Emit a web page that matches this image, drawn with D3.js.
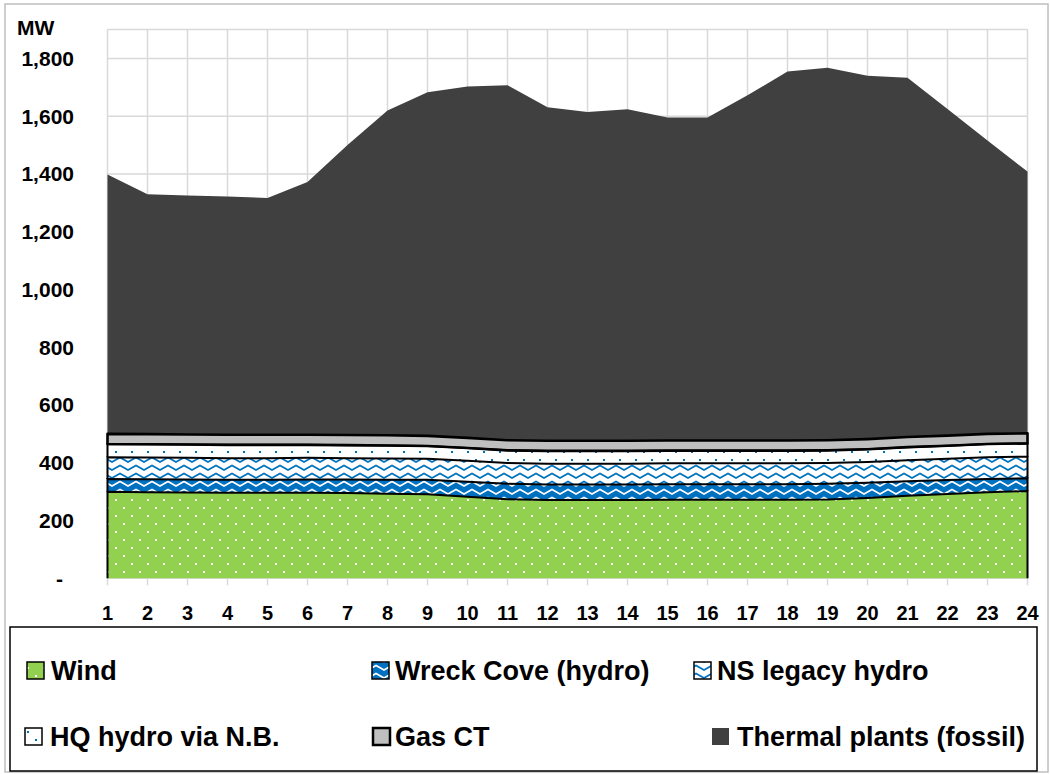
<!DOCTYPE html>
<html>
<head>
<meta charset="utf-8">
<script src="https://cdn.jsdelivr.net/npm/d3@7"></script>
<style>
  html, body { margin: 0; padding: 0; background: #fff; }
  svg { display: block; }
  text { font-family: "Liberation Sans", Arial, sans-serif; font-weight: bold; fill: #000; }
</style>
</head>
<body>
<svg id="chart" width="1050" height="774"></svg>
<script>
// Hourly supply stack (MW), hours 1-24
const hours = [1,2,3,4,5,6,7,8,9,10,11,12,13,14,15,16,17,18,19,20,21,22,23,24];
const wind      = [300,298,297,296,296,296,295,293,291,282,274,271,271,271,272,272,272,272,273,278,286,292,298,302];
const wreckCove = [44,45,45,45,45,46,47,48,50,52,53,54,54,54,54,54,54,54,54,53,50,48,46,44];
const nsLegacy  = [75,75,75,75,75,75,74,74,73,73,72,72,72,72,72,72,72,72,72,72,73,74,75,75];
const hqHydro   = [46,46,46,46,46,45,45,45,44,44,44,44,44,44,44,44,44,44,44,44,45,45,46,46];
const gasCT     = [35,35,35,35,35,35,35,35,35,35,35,35,35,35,35,35,35,35,35,35,35,35,35,35];
const thermal   = [898,831,827,825,820,875,1004,1125,1190,1217,1229,1155,1138,1148,1118,1118,1195,1278,1290,1258,1244,1131,1016,906];

const seriesNames = ["Wind", "Wreck Cove (hydro)", "NS legacy hydro", "HQ hydro via N.B.", "Gas CT", "Thermal plants (fossil)"];
const yTicks = [0,200,400,600,800,1000,1200,1400,1600,1800];

const seriesValues = [wind, wreckCove, nsLegacy, hqHydro, gasCT, thermal];
const rows = hours.map((h, i) => {
  const r = { hour: h };
  seriesNames.forEach((n, k) => r[n] = seriesValues[k][i]);
  return r;
});

const svg = d3.select("#chart");
const defs = svg.append("defs");

const BLUE = "#0070c0", GREEN = "#92d050", DARK = "#404040", GAS = "#bfbfbf", GRID = "#d9d9d9";

// Fill patterns
function dotPattern(id, bg, fg) {
  const p = defs.append("pattern").attr("id", id).attr("patternUnits", "userSpaceOnUse")
    .attr("width", 16).attr("height", 16);
  p.append("rect").attr("width", 16).attr("height", 16).attr("fill", bg);
  p.append("rect").attr("x", 3).attr("y", 3).attr("width", 2).attr("height", 2).attr("fill", fg);
  p.append("rect").attr("x", 11).attr("y", 11).attr("width", 2).attr("height", 2).attr("fill", fg);
}
function zigzagPattern(id, bg, fg) {
  const p = defs.append("pattern").attr("id", id).attr("patternUnits", "userSpaceOnUse")
    .attr("width", 16).attr("height", 8);
  p.append("rect").attr("width", 16).attr("height", 8).attr("fill", bg);
  p.append("path").attr("d", "M-8,1.5 L0,6 L8,1.5 L16,6 L24,1.5")
    .attr("fill", "none").attr("stroke", fg).attr("stroke-width", 1.6);
}
dotPattern("pWind", GREEN, "#ffffff");
zigzagPattern("pWreck", BLUE, "#ffffff");
zigzagPattern("pNS", "#ffffff", BLUE);
dotPattern("pHQ", "#ffffff", BLUE);

const fills = {
  "Wind": "url(#pWind)",
  "Wreck Cove (hydro)": "url(#pWreck)",
  "NS legacy hydro": "url(#pNS)",
  "HQ hydro via N.B.": "url(#pHQ)",
  "Gas CT": GAS,
  "Thermal plants (fossil)": DARK
};

// Scales
const x = d3.scaleLinear().domain([1, 24]).range([107.5, 1027.5]);
const y = d3.scaleLinear().domain([0, 1900]).range([578.3, 29.5]);

// Outer chart frame
svg.append("rect").attr("x", 5).attr("y", 4).attr("width", 1043).attr("height", 768)
  .attr("fill", "none").attr("stroke", "#bfbfbf").attr("stroke-width", 1.5);

// Gridlines
const grid = svg.append("g");
grid.selectAll("line.h").data(yTicks.filter(d => d > 0).concat([1900])).join("line")
  .attr("x1", x(1)).attr("x2", x(24)).attr("y1", d => y(d)).attr("y2", d => y(d))
  .attr("stroke", GRID).attr("stroke-width", 1.5);
grid.selectAll("line.v").data(hours).join("line")
  .attr("x1", d => x(d)).attr("x2", d => x(d)).attr("y1", y(1900)).attr("y2", y(0) + 7)
  .attr("stroke", GRID).attr("stroke-width", 1.5);
grid.append("line").attr("x1", x(1)).attr("x2", x(24)).attr("y1", y(0)).attr("y2", y(0))
  .attr("stroke", GRID).attr("stroke-width", 1.5);

// Stacked areas
const stack = d3.stack().keys(seriesNames);
const layers = stack(rows);

const area = d3.area().x(d => x(d.data.hour)).y0(d => y(d[0])).y1(d => y(d[1]));

const plot = svg.append("g");
plot.selectAll("path.area").data(layers).join("path")
  .attr("d", area)
  .attr("fill", d => fills[d.key]);

// Outlines: top edge plus both ends of each band (no baseline stroke)
function outline(layer) {
  const first = layer[0], last = layer[layer.length - 1];
  const top = d3.line().x(d => x(d.data.hour)).y(d => y(d[1]))(layer);
  return `M${x(first.data.hour)},${y(first[0])} L${x(first.data.hour)},${y(first[1])} ` +
    top.replace(/^M/, "L") + ` L${x(last.data.hour)},${y(last[0])}`;
}
plot.selectAll("path.edge").data(layers.filter(l => l.key !== "Thermal plants (fossil)" && l.key !== "Gas CT")).join("path")
  .attr("d", outline).attr("fill", "none").attr("stroke", "#000").attr("stroke-width", 2);
plot.selectAll("path.gas").data(layers.filter(l => l.key === "Gas CT")).join("path")
  .attr("d", area).attr("fill", "none").attr("stroke", "#000").attr("stroke-width", 2.6)
  .attr("stroke-linejoin", "round");

// Axes labels
const yAxis = svg.append("g");
yAxis.selectAll("text").data(yTicks).join("text")
  .attr("x", d => d === 0 ? 63 : 74)
  .attr("y", d => y(d))
  .attr("dy", "0.35em")
  .attr("text-anchor", "end")
  .style("font-size", "21px")
  .text(d => d === 0 ? "-" : d3.format(",")(d));

svg.append("text").attr("x", 17).attr("y", 35).style("font-size", "21px").text("MW");

const xAxis = svg.append("g");
xAxis.selectAll("text").data(hours).join("text")
  .attr("x", d => x(d)).attr("y", 620)
  .attr("text-anchor", "middle")
  .style("font-size", "20px")
  .text(d => d);

// Legend
const legend = svg.append("g");
legend.append("rect").attr("x", 10).attr("y", 627).attr("width", 1027).attr("height", 144)
  .attr("fill", "#fff").attr("stroke", "#000").attr("stroke-width", 1.5);

const legendPos = [
  { sx: 27, tx: 51, base: 680 },
  { sx: 372, tx: 395, base: 680 },
  { sx: 694, tx: 717, base: 680 },
  { sx: 25, tx: 50, base: 746 },
  { sx: 373, tx: 395, base: 746 },
  { sx: 712, tx: 737, base: 746 }
];
seriesNames.forEach((name, i) => {
  const p = legendPos[i];
  const g = legend.append("g");
  const isThermal = name === "Thermal plants (fossil)";
  g.append("rect").attr("x", p.sx).attr("y", p.base - 18).attr("width", 17).attr("height", 17)
    .attr("fill", fills[name])
    .attr("stroke", isThermal ? "none" : "#000")
    .attr("stroke-width", name === "Gas CT" ? 2.5 : 1.5);
  g.append("text").attr("x", p.tx).attr("y", p.base).style("font-size", "27px").text(name);
});
</script>
</body>
</html>
